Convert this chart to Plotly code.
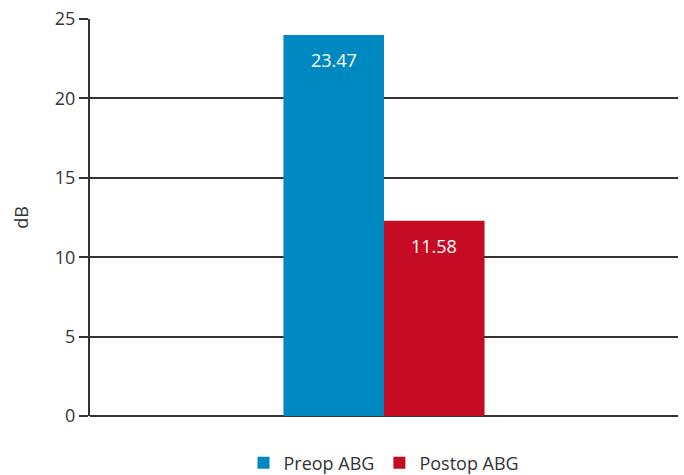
import plotly.graph_objects as go

series = ["Preop ABG", "Postop ABG"]
bar_values = [24.0, 12.3]
label_texts = ["23.47", "11.58"]
colors = ["#0089c0", "#c60b24"]
category = [""]
y_ticks = [0, 5, 10, 15, 20, 25]

FONT = "Open Sans, DejaVu Sans, sans-serif"
BARGAP = 0.658

fig = go.Figure()
for name, val, col in zip(series, bar_values, colors):
    fig.add_trace(go.Bar(
        x=category, y=[val], name=name,
        marker=dict(color=col, line=dict(width=0)),
    ))

# value labels inside bar tops
bw = (1 - BARGAP) / len(series)
for i, (val, txt) in enumerate(zip(bar_values, label_texts)):
    off = -(1 - BARGAP) / 2 + bw * (i + 0.5)
    fig.add_annotation(
        x=off, y=val, xref="x", yref="y", text=txt, showarrow=False,
        yanchor="middle", yshift=-25,
        font=dict(family=FONT, size=18, color="white"),
    )

fig.update_layout(
    width=684, height=475,
    margin=dict(l=90, r=6, t=17, b=59),
    paper_bgcolor="white", plot_bgcolor="white",
    barmode="group", bargap=BARGAP, bargroupgap=0,
    font=dict(family=FONT, size=18, color="#333333"),
    showlegend=True,
    legend=dict(orientation="h", x=0.5, xanchor="center",
                yref="container", y=0.025, yanchor="middle",
                font=dict(family=FONT, size=18, color="#333333"),
                traceorder="normal"),
    xaxis=dict(range=[-0.5, 0.5], showticklabels=False,
               showgrid=False, zeroline=False, showline=False, ticks=""),
    yaxis=dict(range=[0, 25], tickvals=y_ticks, showgrid=True,
               gridcolor="#333333", gridwidth=2,
               showline=True, linecolor="#333333", linewidth=2,
               ticks="outside", ticklen=9, tickcolor="#333333", tickwidth=2,
               zeroline=True, zerolinecolor="#333333", zerolinewidth=2,
               title=dict(text="dB", font=dict(family=FONT, size=18, color="#333333"), standoff=22),
               tickfont=dict(family=FONT, size=18, color="#333333")),
)

fig.write_html("out.html")
